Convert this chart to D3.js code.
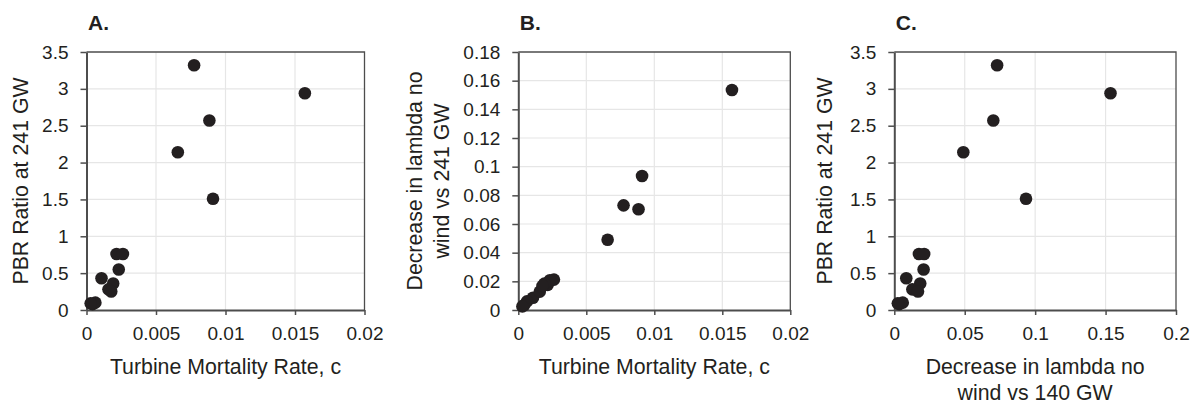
<!DOCTYPE html>
<html>
<head>
<meta charset="utf-8">
<title>Turbine mortality scatter</title>
<script src="https://d3js.org/d3.v7.min.js"></script>
<style>
  body { margin: 0; background: #fff; font-family: "Liberation Sans", Arial, Helvetica, sans-serif; }
  .tick text { font-size: 19px; fill: #231f20; }
  .axis-title { font-size: 21.3px; fill: #231f20; }
  .panel-title { font-size: 21px; font-weight: bold; fill: #231f20; }
  .grid line { stroke: #e6e6e6; stroke-width: 1.2; }
</style>
</head>
<body>
<svg id="chart" width="1197" height="404"></svg>
<script>
// turbine mortality rate c
var mortality = [0.00774, 0.01571, 0.00884, 0.00657, 0.00910, 0.00216, 0.00262, 0.00232,
                 0.00108, 0.00192, 0.00158, 0.00178, 0.00044, 0.00064, 0.00030];
// decrease in lambda (no wind vs 241 GW)
var lambdaDrop = [0.0730, 0.1535, 0.0703, 0.0490, 0.0935, 0.0175, 0.0212, 0.0208,
                  0.0085, 0.0184, 0.0128, 0.0168, 0.0035, 0.0060, 0.0025];
// PBR ratio at 241 GW
var pbrRatio = [3.32, 2.94, 2.57, 2.14, 1.51, 0.76, 0.76, 0.55,
                0.43, 0.36, 0.28, 0.25, 0.08, 0.10, 0.09];

var ticksC = [0, 0.005, 0.01, 0.015, 0.02];
var ticksLambda = [0, 0.02, 0.04, 0.06, 0.08, 0.1, 0.12, 0.14, 0.16, 0.18];
var ticksLambdaX = [0, 0.05, 0.1, 0.15, 0.2];
var ticksPbr = [0, 0.5, 1, 1.5, 2, 2.5, 3, 3.5];

var svg = d3.select('#chart');
var plotTop = 52, plotBottom = 310;

function panel(cfg) {
	var x = d3.scaleLinear().domain(cfg.xDomain).range([cfg.left, cfg.right]);
	var y = d3.scaleLinear().domain(cfg.yDomain).range([plotBottom, plotTop]);
	var g = svg.append('g');
	var fmt = function(d) { return String(+d.toFixed(4)); };

	// grid
	var grid = g.append('g').attr('class', 'grid');
	grid.selectAll('line.v').data(cfg.xTicks.slice(1, -1)).enter().append('line')
		.attr('x1', x).attr('x2', x).attr('y1', plotTop).attr('y2', plotBottom);
	grid.selectAll('line.h').data(cfg.yTicks.slice(1, -1)).enter().append('line')
		.attr('y1', y).attr('y2', y).attr('x1', cfg.left).attr('x2', cfg.right);

	// frame top/right
	g.append('path')
		.attr('d', 'M' + cfg.left + ',' + plotTop + 'H' + cfg.right + 'V' + plotBottom)
		.attr('fill', 'none').attr('stroke', '#4d4d4d').attr('stroke-width', 1.3);

	var xa = g.append('g').attr('transform', 'translate(0,' + plotBottom + ')')
		.call(d3.axisBottom(x).tickValues(cfg.xTicks).tickFormat(fmt).tickSizeOuter(0).tickSizeInner(5).tickPadding(12));
	var ya = g.append('g').attr('transform', 'translate(' + cfg.left + ',0)')
		.call(d3.axisLeft(y).tickValues(cfg.yTicks).tickFormat(fmt).tickSizeOuter(0).tickSizeInner(6).tickPadding(12));
	[xa, ya].forEach(function(a) {
		a.attr('font-family', null).attr('font-size', null);
		a.select('.domain').attr('stroke', '#4d4d4d').attr('stroke-width', 2);
		a.selectAll('.tick line').attr('stroke', '#4d4d4d').attr('stroke-width', 1.5);
	});

	// points
	g.append('g').selectAll('circle').data(cfg.xs).enter().append('circle')
		.attr('cx', function(d) { return x(d); })
		.attr('cy', function(d, i) { return y(cfg.ys[i]); })
		.attr('r', 6.3)
		.attr('fill', '#231f20');

	// titles
	g.append('text').attr('class', 'panel-title')
		.attr('x', cfg.left + 1.5).attr('y', 30).text(cfg.label);

	var cx = (cfg.left + cfg.right) / 2;
	var xt = g.append('text').attr('class', 'axis-title').attr('text-anchor', 'middle');
	cfg.xTitle.forEach(function(t, i) {
		xt.append('tspan').attr('x', cx).attr('y', 374 + i * 26).text(t);
	});
	var cy = (plotTop + plotBottom) / 2;
	var yt = g.append('text').attr('class', 'axis-title').attr('text-anchor', 'middle')
		.attr('transform', 'translate(' + cfg.yTitleX + ',' + cy + ') rotate(-90)');
	cfg.yTitle.forEach(function(t, i) {
		yt.append('tspan').attr('x', 0).attr('y', i * 27).text(t);
	});
}

panel({
	label: 'A.', left: 86.5, right: 364.5,
	xDomain: [0, 0.02], yDomain: [0, 3.5],
	xTicks: ticksC, yTicks: ticksPbr,
	xs: mortality, ys: pbrRatio,
	xTitle: ['Turbine Mortality Rate, c'],
	yTitle: ['PBR Ratio at 241 GW'], yTitleX: 28
});

panel({
	label: 'B.', left: 518.3, right: 790.3,
	xDomain: [0, 0.02], yDomain: [0, 0.18],
	xTicks: ticksC, yTicks: ticksLambda,
	xs: mortality, ys: lambdaDrop,
	xTitle: ['Turbine Mortality Rate, c'],
	yTitle: ['Decrease in lambda no', 'wind vs 241 GW'], yTitleX: 422
});

panel({
	label: 'C.', left: 894.3, right: 1176,
	xDomain: [0, 0.2], yDomain: [0, 3.5],
	xTicks: ticksLambdaX, yTicks: ticksPbr,
	xs: lambdaDrop, ys: pbrRatio,
	xTitle: ['Decrease in lambda no', 'wind vs 140 GW'],
	yTitle: ['PBR Ratio at 241 GW'], yTitleX: 832
});
</script>
</body>
</html>
